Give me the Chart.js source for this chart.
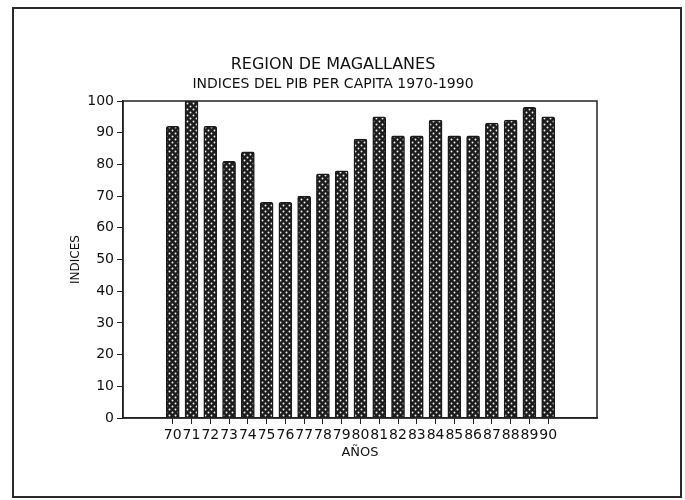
<!DOCTYPE html>
<html>
<head>
<meta charset="utf-8">
<script src="https://cdn.jsdelivr.net/npm/chart.js@4"></script>
<style>
  body { margin: 0; background: #fff; }
  #frame {
    position: absolute; left: 12px; top: 7px; width: 666px; height: 487px;
    border: 2px solid #2a2a2a;
  }
  #c { position: absolute; left: 0; top: 0; }
</style>
</head>
<body>
<div id="frame"></div>
<canvas id="c" width="685" height="500"></canvas>
<script>
const years = [70, 71, 72, 73, 74, 75, 76, 77, 78, 79, 80, 81, 82, 83, 84, 85, 86, 87, 88, 89, 90];
const indices = [92, 100, 92, 81, 84, 68, 68, 70, 77, 78, 88, 95, 89, 89, 94, 89, 89, 93, 94, 98, 95];
const yTicks = [0, 10, 20, 30, 40, 50, 60, 70, 80, 90, 100];

// dark dotted fill like the plotter hatch
const makePattern = () => {
  const p = document.createElement("canvas");
  p.width = 6;
  p.height = 6;
  const g = p.getContext("2d");
  g.fillStyle = "#1c1c1c";
  g.fillRect(0, 0, 6, 6);
  g.fillStyle = "#f4f4f4";
  g.beginPath();
  g.arc(1.5, 1.5, 0.95, 0, Math.PI * 2);
  g.arc(4.5, 4.5, 0.95, 0, Math.PI * 2);
  g.fill();
  return g.createPattern(p, "repeat");
};

const boxPlugin = {
  id: "box",
  afterDraw(chart) {
    const { ctx, chartArea: a } = chart;
    ctx.save();
    ctx.strokeStyle = "#222";
    ctx.lineWidth = 1.5;
    ctx.strokeRect(a.left, a.top, a.right - a.left, a.bottom - a.top);
    ctx.restore();
  },
};

const font = "'DejaVu Sans', sans-serif";

new Chart(document.getElementById("c"), {
  type: "bar",
  data: {
    datasets: [
      {
        data: years.map((y, i) => ({ x: y, y: indices[i] })),
        backgroundColor: makePattern(),
        borderColor: "#1a1a1a",
        borderWidth: 1.5,
        borderRadius: 2,
        borderSkipped: "bottom",
        barThickness: 13,
      },
    ],
  },
  plugins: [boxPlugin],
  options: {
    responsive: false,
    animation: false,
    layout: { padding: { top: 55, left: 69, right: 88, bottom: 40 } },
    plugins: {
      legend: { display: false },
      tooltip: { enabled: false },
      title: {
        display: true,
        text: "REGION DE MAGALLANES",
        color: "#111",
        font: { family: font, size: 16, weight: "normal" },
        padding: { top: 0, bottom: 2 },
      },
      subtitle: {
        display: true,
        text: "INDICES DEL PIB PER CAPITA 1970-1990",
        color: "#111",
        font: { family: font, size: 14 },
        padding: { top: 0, bottom: 8 },
      },
    },
    scales: {
      x: {
        type: "linear",
        offset: false,
        min: 67.35,
        max: 92.6,
        afterBuildTicks: (axis) => {
          axis.ticks = years.map((v) => ({ value: v }));
        },
        afterFit: (scale) => {
          scale.height = 42;
        },
        ticks: {
          autoSkip: false,
          maxRotation: 0,
          padding: 3,
          color: "#111",
          font: { family: font, size: 14 },
          callback: (v) => String(v),
        },
        grid: { offset: false, drawOnChartArea: false, tickLength: 6, color: "#222", lineWidth: 1 },
        border: { color: "#222", width: 1.5 },
        title: {
          display: true,
          text: "AÑOS",
          color: "#111",
          font: { family: font, size: 13 },
          padding: { top: 0, bottom: 0 },
        },
      },
      y: {
        min: 0,
        max: 100,
        afterBuildTicks: (axis) => {
          axis.ticks = yTicks.map((v) => ({ value: v }));
        },
        afterFit: (scale) => {
          scale.width = 54;
        },
        ticks: {
          padding: 3,
          color: "#111",
          font: { family: font, size: 14 },
        },
        grid: { drawOnChartArea: false, tickLength: 6, color: "#222", lineWidth: 1 },
        border: { color: "#222", width: 1.5 },
        title: {
          display: true,
          text: "INDICES",
          color: "#111",
          font: { family: font, size: 12 },
          padding: { top: 0, bottom: 0 },
        },
      },
    },
  },
});
</script>
</body>
</html>
